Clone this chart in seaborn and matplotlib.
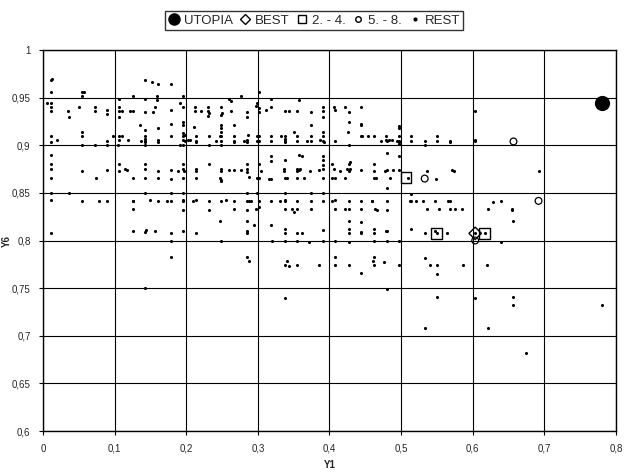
import matplotlib
matplotlib.use("Agg")
import matplotlib.pyplot as plt
import seaborn as sns
import pandas as pd
from matplotlib.ticker import FuncFormatter, MultipleLocator
from matplotlib.lines import Line2D

# REST points
rest_pts = [
    (0.011, 0.969), (0.012, 0.970), (0.142, 0.968), (0.152, 0.966), (0.160, 0.964), (0.178, 0.964),
    (0.011, 0.956), (0.054, 0.956), (0.057, 0.956), (0.054, 0.952), (0.125, 0.952), (0.159, 0.952),
    (0.195, 0.952), (0.159, 0.948), (0.143, 0.949), (0.106, 0.949),
    (0.005, 0.944), (0.011, 0.944), (0.191, 0.944),
    (0.011, 0.940), (0.072, 0.940), (0.050, 0.940), (0.106, 0.940), (0.157, 0.940), (0.195, 0.940),
    (0.011, 0.936), (0.035, 0.936), (0.072, 0.936), (0.090, 0.937), (0.106, 0.936), (0.110, 0.936),
    (0.122, 0.936), (0.125, 0.936), (0.143, 0.935), (0.154, 0.935), (0.178, 0.937),
    (0.090, 0.933), (0.036, 0.930), (0.106, 0.930),
    (0.195, 0.924), (0.135, 0.921), (0.178, 0.922), (0.195, 0.921), (0.160, 0.918), (0.143, 0.916),
    (0.054, 0.914), (0.195, 0.913), (0.198, 0.911),
    (0.011, 0.910), (0.054, 0.910), (0.097, 0.910), (0.106, 0.910), (0.110, 0.910), (0.143, 0.910),
    (0.179, 0.910), (0.195, 0.910),
    (0.019, 0.905), (0.089, 0.904), (0.106, 0.905), (0.118, 0.905), (0.137, 0.904), (0.143, 0.907),
    (0.143, 0.904), (0.143, 0.903), (0.160, 0.906), (0.160, 0.903), (0.195, 0.906), (0.198, 0.904),
    (0.202, 0.905), (0.011, 0.903),
    (0.054, 0.900), (0.072, 0.900), (0.090, 0.900), (0.105, 0.900), (0.143, 0.900), (0.191, 0.900),
    (0.195, 0.900), (0.011, 0.890),
    (0.011, 0.880), (0.106, 0.880), (0.143, 0.880), (0.195, 0.880),
    (0.011, 0.875), (0.054, 0.873), (0.090, 0.874), (0.106, 0.873), (0.114, 0.875), (0.117, 0.874),
    (0.143, 0.875), (0.160, 0.873), (0.179, 0.874), (0.189, 0.873), (0.195, 0.875), (0.197, 0.873),
    (0.011, 0.866), (0.074, 0.866), (0.125, 0.866), (0.142, 0.866), (0.161, 0.866), (0.179, 0.865),
    (0.195, 0.866),
    (0.011, 0.850), (0.036, 0.850), (0.143, 0.850), (0.179, 0.850), (0.195, 0.850),
    (0.011, 0.843), (0.054, 0.842), (0.078, 0.841), (0.090, 0.842), (0.125, 0.841), (0.126, 0.842),
    (0.150, 0.843), (0.160, 0.842), (0.173, 0.841), (0.179, 0.841), (0.195, 0.843), (0.196, 0.841),
    (0.125, 0.833), (0.195, 0.832),
    (0.011, 0.808), (0.125, 0.810), (0.142, 0.809), (0.144, 0.811), (0.156, 0.810), (0.179, 0.808),
    (0.195, 0.810),
    (0.276, 0.952), (0.259, 0.949), (0.263, 0.946), (0.301, 0.956), (0.319, 0.949), (0.357, 0.948),
    (0.299, 0.944), (0.297, 0.941), (0.302, 0.939), (0.302, 0.935), (0.312, 0.937), (0.319, 0.940),
    (0.212, 0.940), (0.212, 0.936), (0.220, 0.936), (0.230, 0.940), (0.230, 0.936), (0.232, 0.934),
    (0.230, 0.931), (0.249, 0.940), (0.248, 0.932), (0.250, 0.934), (0.263, 0.936), (0.285, 0.935),
    (0.285, 0.930), (0.338, 0.936), (0.344, 0.936), (0.355, 0.936), (0.374, 0.935), (0.391, 0.940),
    (0.391, 0.936), (0.391, 0.930), (0.406, 0.940), (0.408, 0.937),
    (0.211, 0.919), (0.249, 0.921), (0.249, 0.918), (0.267, 0.921), (0.248, 0.914), (0.350, 0.914),
    (0.374, 0.921), (0.391, 0.914),
    (0.213, 0.910), (0.232, 0.910), (0.247, 0.910), (0.249, 0.910), (0.267, 0.910), (0.286, 0.911),
    (0.299, 0.910), (0.302, 0.910), (0.319, 0.910), (0.333, 0.910), (0.338, 0.910), (0.355, 0.910),
    (0.374, 0.910), (0.391, 0.910),
    (0.205, 0.905), (0.213, 0.904), (0.214, 0.903), (0.232, 0.900), (0.241, 0.904), (0.248, 0.904),
    (0.249, 0.900), (0.267, 0.904), (0.267, 0.903), (0.281, 0.904), (0.285, 0.906), (0.285, 0.903),
    (0.299, 0.904), (0.302, 0.904), (0.319, 0.904), (0.338, 0.907), (0.338, 0.904), (0.338, 0.903),
    (0.355, 0.904), (0.368, 0.904), (0.374, 0.904), (0.387, 0.905), (0.391, 0.904), (0.392, 0.903),
    (0.408, 0.904),
    (0.319, 0.889), (0.319, 0.883), (0.338, 0.884), (0.357, 0.890), (0.362, 0.889), (0.391, 0.889),
    (0.391, 0.884), (0.232, 0.880), (0.285, 0.880), (0.302, 0.880),
    (0.213, 0.875), (0.213, 0.873), (0.249, 0.875), (0.249, 0.873), (0.259, 0.874), (0.267, 0.874),
    (0.277, 0.874), (0.285, 0.875), (0.285, 0.872), (0.305, 0.873), (0.337, 0.875), (0.337, 0.873),
    (0.355, 0.875), (0.357, 0.874), (0.355, 0.873), (0.359, 0.875), (0.373, 0.873), (0.386, 0.874),
    (0.391, 0.875), (0.391, 0.879), (0.403, 0.880), (0.406, 0.875),
    (0.213, 0.866), (0.247, 0.866), (0.249, 0.864), (0.248, 0.862), (0.287, 0.867), (0.299, 0.866),
    (0.302, 0.866), (0.316, 0.865), (0.319, 0.865), (0.338, 0.866), (0.341, 0.866), (0.355, 0.866),
    (0.365, 0.866), (0.391, 0.866), (0.404, 0.866), (0.408, 0.866),
    (0.285, 0.850), (0.299, 0.850), (0.338, 0.850), (0.374, 0.850), (0.391, 0.850),
    (0.210, 0.841), (0.213, 0.843), (0.232, 0.841), (0.248, 0.841), (0.256, 0.843), (0.267, 0.841),
    (0.285, 0.841), (0.287, 0.841), (0.290, 0.841), (0.302, 0.842), (0.319, 0.841), (0.331, 0.842),
    (0.338, 0.843), (0.338, 0.841), (0.355, 0.841), (0.374, 0.841), (0.391, 0.841), (0.404, 0.841),
    (0.408, 0.843),
    (0.232, 0.832), (0.267, 0.833), (0.285, 0.832), (0.297, 0.833), (0.301, 0.835), (0.338, 0.833),
    (0.348, 0.833), (0.350, 0.830), (0.355, 0.833), (0.374, 0.833), (0.408, 0.833),
    (0.247, 0.820), (0.285, 0.820), (0.294, 0.816), (0.319, 0.816), (0.338, 0.812), (0.391, 0.811),
    (0.213, 0.808), (0.285, 0.810), (0.285, 0.808), (0.338, 0.808), (0.355, 0.808), (0.362, 0.808),
    (0.422, 0.940), (0.427, 0.935), (0.444, 0.940), (0.427, 0.924), (0.444, 0.922), (0.444, 0.921),
    (0.426, 0.914), (0.497, 0.920), (0.497, 0.918),
    (0.444, 0.910), (0.446, 0.910), (0.454, 0.910), (0.462, 0.910), (0.479, 0.910), (0.497, 0.910),
    (0.514, 0.910), (0.550, 0.910), (0.603, 0.936), (0.603, 0.906), (0.603, 0.904),
    (0.472, 0.904), (0.479, 0.906), (0.481, 0.904), (0.483, 0.905), (0.487, 0.905), (0.494, 0.904),
    (0.497, 0.904), (0.497, 0.903), (0.497, 0.901), (0.514, 0.904), (0.533, 0.904), (0.533, 0.900),
    (0.550, 0.904), (0.568, 0.904), (0.568, 0.903), (0.427, 0.900),
    (0.480, 0.892), (0.497, 0.889), (0.428, 0.882), (0.427, 0.880), (0.462, 0.880),
    (0.415, 0.873), (0.424, 0.875), (0.428, 0.875), (0.427, 0.873), (0.444, 0.874), (0.462, 0.873),
    (0.477, 0.873), (0.480, 0.874), (0.489, 0.874), (0.497, 0.874), (0.536, 0.873), (0.571, 0.874),
    (0.574, 0.873),
    (0.421, 0.866), (0.462, 0.866), (0.465, 0.866), (0.484, 0.866), (0.510, 0.866), (0.549, 0.865),
    (0.480, 0.855), (0.514, 0.849),
    (0.427, 0.841), (0.444, 0.841), (0.460, 0.842), (0.460, 0.841), (0.480, 0.841), (0.513, 0.841),
    (0.514, 0.841), (0.521, 0.842), (0.531, 0.841), (0.548, 0.841), (0.565, 0.842), (0.568, 0.842),
    (0.422, 0.833), (0.427, 0.833), (0.444, 0.833), (0.463, 0.833), (0.466, 0.832), (0.480, 0.832),
    (0.536, 0.833), (0.553, 0.833), (0.568, 0.833), (0.576, 0.833), (0.585, 0.833),
    (0.427, 0.820), (0.444, 0.819), (0.427, 0.812), (0.444, 0.809), (0.444, 0.808), (0.427, 0.808),
    (0.462, 0.812), (0.462, 0.808), (0.479, 0.810), (0.481, 0.810), (0.514, 0.812), (0.533, 0.808),
    (0.548, 0.810), (0.550, 0.808), (0.564, 0.808), (0.603, 0.808),
    (0.692, 0.873), (0.628, 0.840), (0.639, 0.842), (0.622, 0.833), (0.655, 0.833), (0.655, 0.832),
    (0.657, 0.820), (0.617, 0.808),
    (0.178, 0.800), (0.178, 0.783), (0.143, 0.750),
    (0.249, 0.800), (0.285, 0.783), (0.287, 0.778), (0.320, 0.800), (0.338, 0.800), (0.355, 0.800),
    (0.371, 0.798), (0.391, 0.800), (0.408, 0.800), (0.340, 0.778), (0.338, 0.774), (0.344, 0.773),
    (0.355, 0.774), (0.385, 0.774), (0.408, 0.783), (0.408, 0.774), (0.338, 0.740),
    (0.427, 0.798), (0.462, 0.800), (0.480, 0.800), (0.497, 0.800), (0.427, 0.774), (0.444, 0.766),
    (0.462, 0.783), (0.461, 0.778), (0.462, 0.774), (0.476, 0.777), (0.497, 0.774), (0.480, 0.749),
    (0.533, 0.782), (0.541, 0.774), (0.550, 0.774), (0.550, 0.765), (0.586, 0.774), (0.550, 0.741),
    (0.603, 0.740), (0.533, 0.708),
    (0.639, 0.798), (0.620, 0.774), (0.657, 0.741), (0.657, 0.732), (0.622, 0.708), (0.674, 0.682),
    (0.780, 0.732),
]
rest_x = [p[0] for p in rest_pts]
rest_y = [p[1] for p in rest_pts]

utopia_x = [0.781]
utopia_y = [0.944]
best_x = [0.6035]
best_y = [0.8075]
top_x = [0.507, 0.550, 0.617]          # 2. - 4.
top_y = [0.866, 0.8075, 0.8075]
next_x = [0.533, 0.6035, 0.657, 0.692]  # 5. - 8.
next_y = [0.865, 0.800, 0.904, 0.8416]

sns.set_style("white")
plt.rcParams['font.family'] = ['Liberation Sans', 'DejaVu Sans']

fig, ax = plt.subplots(figsize=(6.24, 4.74), dpi=100)
fig.subplots_adjust(left=0.069, right=0.987, top=0.8945, bottom=0.0907)

rest = pd.DataFrame({'Y1': rest_x, 'Y6': rest_y})
sns.scatterplot(data=rest, x='Y1', y='Y6', ax=ax, s=5, color='black', linewidth=0, zorder=4)
sns.scatterplot(x=top_x, y=top_y, ax=ax, marker='s', s=60, facecolor='none',
                edgecolor='black', linewidth=1.0, zorder=3)
sns.scatterplot(x=next_x, y=next_y, ax=ax, marker='o', s=24, facecolor='none',
                edgecolor='black', linewidth=0.9, zorder=3)
sns.scatterplot(x=best_x, y=best_y, ax=ax, marker='D', s=40, facecolor='none',
                edgecolor='black', linewidth=1.0, zorder=3)
sns.scatterplot(x=utopia_x, y=utopia_y, ax=ax, marker='o', s=120, color='black',
                linewidth=0, zorder=5)

ax.set_xlim(0, 0.8)
ax.set_ylim(0.6, 1.0)
ax.xaxis.set_major_locator(MultipleLocator(0.1))
ax.yaxis.set_major_locator(MultipleLocator(0.05))
fmt = FuncFormatter(lambda v, p: f"{v:.2f}".rstrip('0').rstrip('.').replace('.', ','))
ax.xaxis.set_major_formatter(fmt)
ax.yaxis.set_major_formatter(fmt)
ax.grid(True, color='black', linewidth=0.8)
ax.set_axisbelow(True)
for s in ax.spines.values():
    s.set_color('black')
    s.set_linewidth(1.0)
ax.tick_params(axis='both', labelsize=7, length=3, width=0.8, color='black', direction='out',
               bottom=True, left=True, pad=6)
ax.set_xlabel('Y1', fontsize=7, fontweight='bold', labelpad=5)
ax.set_ylabel('Y6', fontsize=7, fontweight='bold')
ax.yaxis.set_label_coords(-0.054, 0.5)

handles = [
    Line2D([], [], marker='o', color='black', linestyle='none', markersize=8),
    Line2D([], [], marker='D', markerfacecolor='none', markeredgecolor='black', linestyle='none', markersize=5.5),
    Line2D([], [], marker='s', markerfacecolor='none', markeredgecolor='black', linestyle='none', markersize=5.5),
    Line2D([], [], marker='o', markerfacecolor='none', markeredgecolor='black', linestyle='none', markersize=4),
    Line2D([], [], marker='o', color='black', linestyle='none', markersize=2),
]
labels = ['UTOPIA', 'BEST', '2. - 4.', '5. - 8.', 'REST']
leg = fig.legend(handles, labels, loc='upper center', bbox_to_anchor=(0.503, 0.99), ncol=5,
                 fontsize=9.5, frameon=True, fancybox=False, edgecolor='black',
                 handlelength=0.9, handletextpad=0.3, columnspacing=0.5, borderpad=0.25)
leg.get_frame().set_linewidth(1.0)

fig.savefig('out.png', dpi=100)
